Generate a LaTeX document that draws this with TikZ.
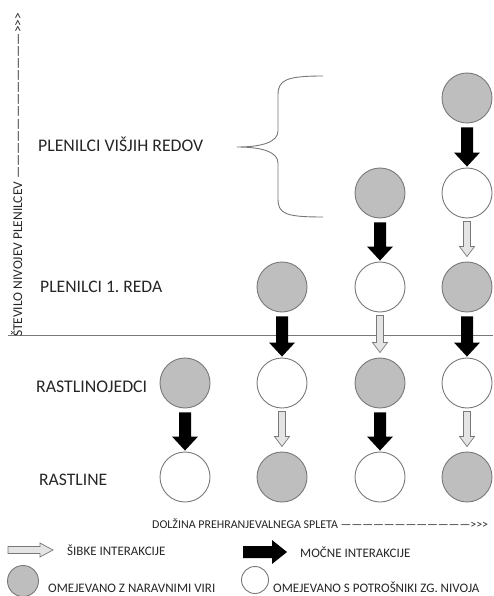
\documentclass[tikz,border=0pt]{standalone}
\usepackage{fontspec}
\setmainfont{Carlito}
\usetikzlibrary{calc}

\definecolor{sivo}{RGB}{190,190,190}
\definecolor{obroba}{RGB}{120,120,120}
\definecolor{svetlo}{RGB}{228,228,228}

\tikzset{
  viri/.style={circle, draw=obroba, fill=sivo, line width=0.9pt, minimum size=50pt, inner sep=0pt},
  potrosniki/.style={circle, draw=obroba, fill=white, line width=0.9pt, minimum size=50pt, inner sep=0pt},
  napis/.style={anchor=base west, inner sep=0pt, text=black!85},
  legenda/.style={napis, font=\fontsize{13}{15}\selectfont},
  sibkaarr/.style={draw=obroba, fill=svetlo, line width=0.7pt},
}

% besedilo na dano sirino
\newcommand{\sirina}[2]{\resizebox{#1}{!}{#2}}
% >>> brez ligatur
\newcommand{\trojni}{>\kern0pt>\kern0pt>}
% mocna interakcija: crna puscica od #1 do #2
\newcommand{\mocna}[2]{%
  \fill[black] ($(#1.south)+(-6,4)$) -- ($(#2.north)+(-6,-15)$) -- ($(#2.north)+(-13,-15)$)
    -- ($(#2.north)+(0,-1)$) -- ($(#2.north)+(13,-15)$) -- ($(#2.north)+(6,-15)$)
    -- ($(#1.south)+(6,4)$) -- cycle;}
% sibka interakcija: svetla puscica od #1 do #2
\newcommand{\sibka}[2]{%
  \filldraw[sibkaarr] ($(#1.south)+(-3.5,3)$) -- ($(#2.north)+(-3.5,-15)$) -- ($(#2.north)+(-7.5,-15)$)
    -- ($(#2.north)+(0,-5)$) -- ($(#2.north)+(7.5,-15)$) -- ($(#2.north)+(3.5,-15)$)
    -- ($(#1.south)+(3.5,3)$) -- cycle;}

\begin{document}
\frenchspacing
\begin{tikzpicture}[x=1pt, y=-1pt]
  \useasboundingbox (0,0) rectangle (493,596);

  % Nivoji
  \node[napis] (visji) at (38,152) {\sirina{165pt}{PLENILCI VIŠJIH REDOV}};
  \node[napis] (prvi) at (40,292) {\sirina{122pt}{PLENILCI 1. REDA}};
  \node[napis] (jedci) at (36,392) {\sirina{111pt}{RASTLINOJEDCI}};
  \node[napis] (rastline) at (39,485) {\sirina{68pt}{RASTLINE}};

  % Zaviti oklepaj
  \draw[obroba, line width=0.9pt] (323,76) .. controls (286,76) and (278,80) .. (278,95)
    -- (278,131) .. controls (278,142) and (262,147) .. (237,147)
    .. controls (262,147) and (278,152) .. (278,163)
    -- (278,199) .. controls (278,214) and (286,217) .. (323,217);

  % Locnica
  \draw[obroba, line width=1pt] (8,335) -- (493,335);

  % 1. stolpec
  \node[viri] (jed1) at (185,383) {};
  \node[potrosniki] (rast1) at (185,477) {};

  % 2. stolpec
  \node[viri] (pl2) at (282,287) {};
  \node[potrosniki] (jed2) at (282,383) {};
  \node[viri] (rast2) at (282,477) {};

  % 3. stolpec
  \node[viri] (vis3) at (380,193) {};
  \node[potrosniki] (pl3) at (380,287) {};
  \node[viri] (jed3) at (380,383) {};
  \node[potrosniki] (rast3) at (380,477) {};

  % 4. stolpec
  \node[viri] (vrh4) at (467,98) {};
  \node[potrosniki] (vis4) at (467,193) {};
  \node[viri] (pl4) at (467,287) {};
  \node[potrosniki] (jed4) at (467,383) {};
  \node[viri] (rast4) at (467,477) {};

  % Interakcije
  \mocna{jed1}{rast1}
  \mocna{pl2}{jed2}
  \sibka{jed2}{rast2}
  \mocna{vis3}{pl3}
  \sibka{pl3}{jed3}
  \mocna{jed3}{rast3}
  \mocna{vrh4}{vis4}
  \sibka{vis4}{pl4}
  \mocna{pl4}{jed4}
  \sibka{jed4}{rast4}

  % Osi
  \node[napis, rotate=90] (osy) at (22,337) {\sirina{324pt}{ŠTEVILO NIVOJEV PLENILCEV ————————————\trojni}};
  \node[napis] (osx) at (152,528) {\sirina{336pt}{DOLŽINA PREHRANJEVALNEGA SPLETA ————————————\trojni}};

  % Legenda
  \filldraw[sibkaarr] (8,546.5) -- (40,546.5) -- (40,543) -- (53,550) -- (40,557) -- (40,553.5) -- (8,553.5) -- cycle;
  \node[legenda] (sibke) at (67,555) {ŠIBKE INTERAKCIJE};
  \fill[black] (243,546) -- (272,546) -- (272,540) -- (287,552) -- (272,564) -- (272,558) -- (243,558) -- cycle;
  \node[legenda] (mocne) at (300,557) {MOČNE INTERAKCIJE};
  \node[viri, minimum size=31pt] (lviri) at (23,581) {};
  \node[legenda] (tviri) at (48,592) {OMEJEVANO Z NARAVNIMI VIRI};
  \node[potrosniki, minimum size=27pt] (lpotr) at (255,580) {};
  \node[legenda] (tpotr) at (273,592) {OMEJEVANO S POTROŠNIKI ZG. NIVOJA};
\end{tikzpicture}
\end{document}
